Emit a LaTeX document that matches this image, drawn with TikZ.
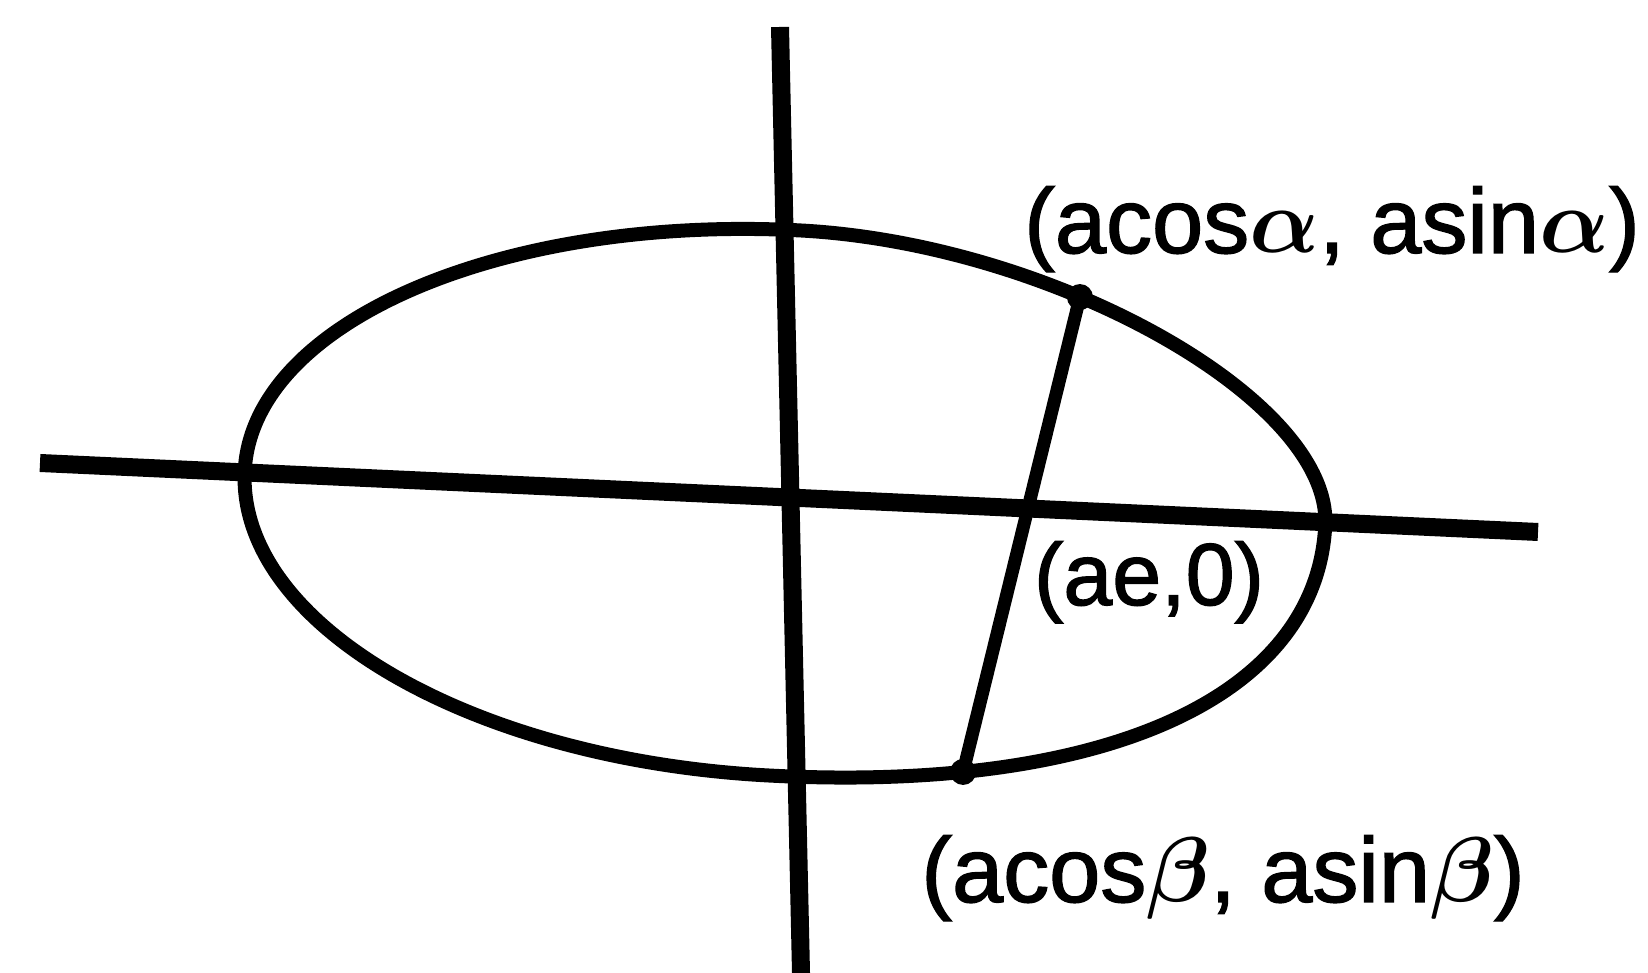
\RequirePackage{fix-cm}
\documentclass[tikz,border=0pt]{standalone}
\usepackage{fontspec}
\setmainfont{Liberation Sans}[FakeBold=1.5]
\begin{document}
\begin{tikzpicture}[x=1pt,y=1pt,
  axis/.style={line width=18pt, line cap=butt},
  curve/.style={line width=14pt},
  chord/.style={line width=13pt},
  dot/.style={circle, fill=black, inner sep=0pt, minimum size=26pt},
  lab/.style={inner sep=0pt, font=\fontsize{92}{106}\selectfont\boldmath}]
\useasboundingbox (0,0) rectangle (1648,973);
\fill[white] (0,0) rectangle (1648,973);
\coordinate (hl) at (40,510);
\coordinate (hr) at (1538,441);
\coordinate (vt) at (780,946);
\coordinate (vb) at (801,0);
\draw[axis] (hl) -- (hr);
\draw[axis] (vt) -- (vb);
\begin{scope}[shift={(785,475)}, rotate=-2.9]
  \coordinate (eL) at (-541,0);
  \coordinate (eR) at (541,0);
  \coordinate (eT) at (0,268);
  \coordinate (eB) at (0,-278);
  \draw[curve] (eT) .. controls (254,268) and (541,126) .. (eR)
               .. controls (541,-172) and (335,-278) .. (eB)
               .. controls (-299,-278) and (-541,-154) .. (eL)
               .. controls (-541,148) and (-299,268) .. (eT) -- cycle;
  \coordinate (pa) at (284.4,215.6);
  \coordinate (pb) at (191.7,-264.6);
\end{scope}
\node[dot] (da) at (pa) {};
\node[dot] (db) at (pb) {};
\draw[chord] (da.center) -- (db.center);
\node[lab, anchor=base] (la) at (1332,720) {(acos$\alpha$, asin$\alpha$)};
\node[lab, anchor=base, font=\fontsize{88}{100}\selectfont\boldmath] (lb) at (1149,368) {(ae,0)};
\node[lab, anchor=base] (lc) at (1223,71) {(acos$\beta$, asin$\beta$)};
\end{tikzpicture}
\end{document}
